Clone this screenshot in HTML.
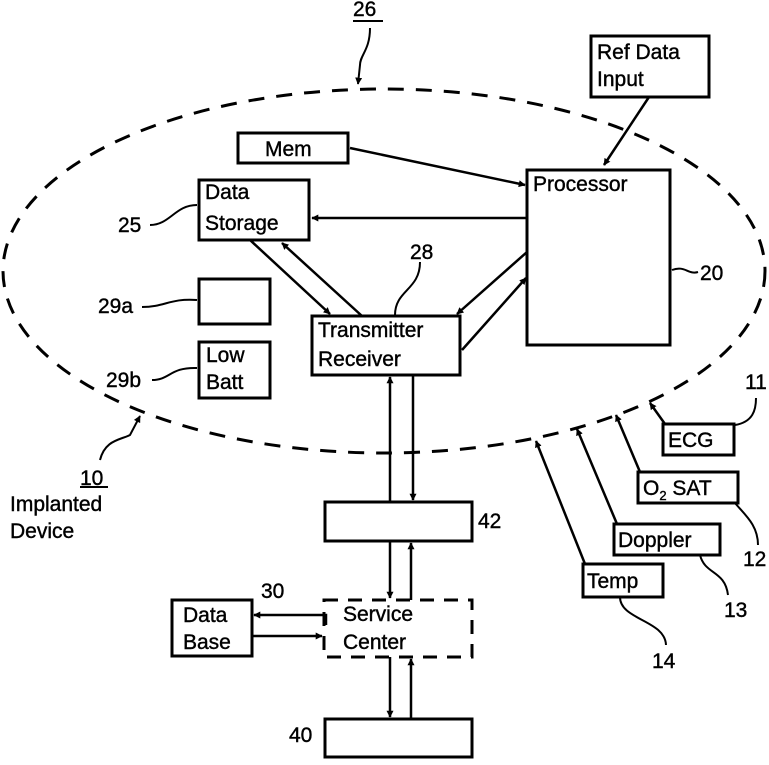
<!DOCTYPE html>
<html><head><meta charset="utf-8"><style>
html,body{margin:0;padding:0;background:#fff;}
svg text{font-family:"Liberation Sans",sans-serif;font-size:21px;fill:#000;stroke:#000;stroke-width:0.4;}
</style></head><body>
<svg width="769" height="760" viewBox="0 0 769 760" xmlns="http://www.w3.org/2000/svg">
<defs>
<marker id="a" viewBox="0 0 10 10" refX="9" refY="5" markerWidth="7" markerHeight="7" orient="auto-start-reverse" markerUnits="userSpaceOnUse">
<path d="M0,0 L10,5 L0,10 z" fill="#000"/></marker>
</defs>
<g fill="none" stroke="#000" stroke-width="3">
<ellipse cx="384" cy="271" rx="381" ry="182" stroke-dasharray="16,12"/>
<rect x="591" y="36" width="118" height="61"/>
<rect x="238" y="133" width="110" height="30"/>
<rect x="527" y="170" width="143" height="175"/>
<rect x="199" y="180" width="110" height="60"/>
<rect x="199" y="279" width="71" height="45"/>
<rect x="199" y="342" width="71" height="56"/>
<rect x="312" y="316" width="148" height="59"/>
<rect x="325" y="502" width="147" height="39"/>
<rect x="324" y="600" width="148" height="57" stroke-dasharray="14,10"/>
<rect x="172" y="600" width="80" height="56"/>
<rect x="325" y="719" width="147" height="38"/>
<rect x="663" y="424" width="71" height="31"/>
<rect x="638" y="472" width="100" height="31"/>
<rect x="614" y="524" width="106" height="31"/>
<rect x="583" y="564" width="80" height="33"/>
</g>
<g fill="none" stroke="#000" stroke-width="2.5">
<line x1="649" y1="97" x2="604" y2="165" marker-end="url(#a)"/>
<line x1="350" y1="148" x2="525" y2="185" marker-end="url(#a)"/>
<line x1="527" y1="218" x2="312" y2="218" marker-end="url(#a)"/>
<line x1="250" y1="240" x2="330" y2="314" marker-end="url(#a)"/>
<line x1="362" y1="316" x2="282" y2="243" marker-end="url(#a)"/>
<line x1="527" y1="252" x2="457" y2="314" marker-end="url(#a)"/>
<line x1="462" y1="350" x2="526" y2="278" marker-end="url(#a)"/>
<line x1="390" y1="502" x2="390" y2="377" marker-end="url(#a)"/>
<line x1="413" y1="375" x2="413" y2="500" marker-end="url(#a)"/>
<line x1="390" y1="541" x2="390" y2="598" marker-end="url(#a)"/>
<line x1="411" y1="600" x2="411" y2="543" marker-end="url(#a)"/>
<line x1="390" y1="657" x2="390" y2="717" marker-end="url(#a)"/>
<line x1="411" y1="719" x2="411" y2="659" marker-end="url(#a)"/>
<polyline points="326,625 326,615 254,615" marker-end="url(#a)"/>
<line x1="252" y1="636" x2="322" y2="636" marker-end="url(#a)"/>
<line x1="665" y1="424" x2="650" y2="403" marker-end="url(#a)"/>
<line x1="640" y1="472" x2="616" y2="415" marker-end="url(#a)"/>
<line x1="617" y1="524" x2="577" y2="429" marker-end="url(#a)"/>
<line x1="585" y1="564" x2="536" y2="441" marker-end="url(#a)"/>
</g>
<g fill="none" stroke="#000" stroke-width="2">
<path d="M370,28 C370,50 360,55 360,65 L358,84" marker-end="url(#a)"/>
<path d="M150,225 C170,225 175,205 197,205"/>
<path d="M420,262 C420,290 395,290 395,315"/>
<path d="M672,270 C685,265 688,275 698,272"/>
<path d="M142,307 C165,307 170,298 197,300"/>
<path d="M152,380 C170,380 170,367 197,368"/>
<path d="M100,460 C105,440 120,440 130,435 L140,416" marker-end="url(#a)"/>
<path d="M756,398 C756,410 753,422 735,425"/>
<path d="M735,503 C745,515 758,525 758,545"/>
<path d="M700,555 C705,575 725,570 728,595"/>
<path d="M620,597 C620,620 665,620 666,645"/>
<line x1="353" y1="21" x2="383" y2="21"/>
<line x1="80" y1="487" x2="108" y2="487"/>
</g>
<text x="353" y="16">26</text>
<text x="597" y="59">Ref Data</text>
<text x="597" y="86">Input</text>
<text x="265" y="156">Mem</text>
<text x="533" y="191">Processor</text>
<text x="205" y="199">Data</text>
<text x="205" y="230">Storage</text>
<text x="118" y="232">25</text>
<text x="410" y="259">28</text>
<text x="700" y="280">20</text>
<text x="98" y="313">29a</text>
<text x="206" y="362">Low</text>
<text x="206" y="389">Batt</text>
<text x="106" y="387">29b</text>
<text x="318" y="337">Transmitter</text>
<text x="318" y="366">Receiver</text>
<text x="745" y="389">11</text>
<text x="80" y="485">10</text>
<text x="10" y="511">Implanted</text>
<text x="10" y="538">Device</text>
<text x="478" y="528">42</text>
<text x="261" y="598">30</text>
<text x="343" y="621">Service</text>
<text x="343" y="649">Center</text>
<text x="183" y="622">Data</text>
<text x="183" y="649">Base</text>
<text x="289" y="742">40</text>
<text x="668" y="447">ECG</text>
<text x="643" y="495">O<tspan font-size="13" dy="5">2</tspan><tspan dy="-5"> SAT</tspan></text>
<text x="618" y="547">Doppler</text>
<text x="587" y="588">Temp</text>
<text x="743" y="566">12</text>
<text x="724" y="617">13</text>
<text x="652" y="668">14</text>
</svg>
</body></html>
